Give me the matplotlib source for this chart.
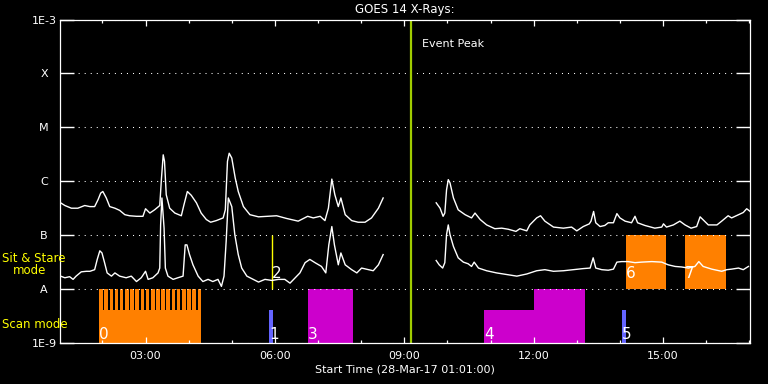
import numpy as np
import matplotlib
matplotlib.use("Agg")
import matplotlib.pyplot as plt
from matplotlib.ticker import NullLocator

# ---- GOES 14 light curves (time in hours of 28-Mar-17, log10 flux in W/m^2) ----
long_t = [1.03, 1.13, 1.28, 1.43, 1.59, 1.71, 1.82, 1.90, 1.96, 2.01, 2.09, 2.17, 2.29, 2.40, 2.52, 2.63,
          2.79, 2.94, 3.00, 3.10, 3.21, 3.33, 3.37, 3.41, 3.44, 3.48, 3.56, 3.68, 3.83, 3.89, 3.97, 4.06,
          4.18, 4.29, 4.41, 4.51, 4.64, 4.80, 4.85, 4.90, 4.94, 5.00, 5.08, 5.15, 5.27, 5.42, 5.62, 5.85,
          6.04, 6.27, 6.54, 6.76, 6.89, 7.05, 7.16, 7.24, 7.32, 7.39, 7.47, 7.53, 7.63, 7.78, 7.93, 8.09,
          8.24, 8.40, 8.51,
          9.74, 9.83, 9.90, 9.94, 9.98, 10.02, 10.06, 10.14, 10.25, 10.41, 10.56, 10.64, 10.76, 10.91,
          11.10, 11.26, 11.41, 11.59, 11.68, 11.84, 11.91, 12.07, 12.16, 12.26, 12.46, 12.69, 12.88, 13.00,
          13.15, 13.29, 13.33, 13.39, 13.44, 13.54, 13.65, 13.73, 13.85, 13.93, 14.00, 14.12, 14.27, 14.35,
          14.41, 14.58, 14.81, 14.97, 15.01, 15.08, 15.24, 15.39, 15.51, 15.65, 15.78, 15.86, 15.96, 16.05,
          16.25, 16.36, 16.51, 16.59, 16.75, 16.86, 16.94, 17.02]
long_log = [-6.40, -6.45, -6.50, -6.50, -6.45, -6.47, -6.47, -6.34, -6.22, -6.19, -6.31, -6.47, -6.50, -6.54,
            -6.62, -6.64, -6.65, -6.65, -6.51, -6.59, -6.53, -6.45, -5.94, -5.51, -5.63, -6.25, -6.50, -6.59,
            -6.64, -6.44, -6.19, -6.26, -6.40, -6.59, -6.71, -6.76, -6.73, -6.68, -6.53, -5.63, -5.48, -5.57,
            -5.94, -6.19, -6.47, -6.62, -6.66, -6.65, -6.64, -6.69, -6.74, -6.65, -6.68, -6.65, -6.73, -6.50,
            -5.96, -6.25, -6.47, -6.31, -6.62, -6.73, -6.76, -6.76, -6.68, -6.50, -6.31,
            -6.40, -6.50, -6.65, -6.59, -6.16, -5.97, -6.03, -6.31, -6.53, -6.62, -6.68, -6.59, -6.71, -6.81,
            -6.88, -6.87, -6.89, -6.93, -6.88, -6.92, -6.81, -6.68, -6.64, -6.74, -6.85, -6.87, -6.85, -6.92,
            -6.84, -6.79, -6.74, -6.56, -6.77, -6.84, -6.82, -6.77, -6.77, -6.60, -6.68, -6.74, -6.77, -6.65,
            -6.77, -6.82, -6.87, -6.85, -6.79, -6.85, -6.81, -6.74, -6.81, -6.87, -6.84, -6.66, -6.74, -6.81,
            -6.81, -6.74, -6.64, -6.68, -6.62, -6.58, -6.51, -6.56]

short_t = [1.03, 1.13, 1.24, 1.32, 1.39, 1.51, 1.63, 1.71, 1.82, 1.88, 1.94, 1.99, 2.05, 2.11, 2.21, 2.29,
           2.40, 2.55, 2.67, 2.79, 2.90, 3.00, 3.06, 3.17, 3.29, 3.33, 3.35, 3.38, 3.43, 3.46, 3.52, 3.64,
           3.75, 3.87, 3.92, 3.96, 4.02, 4.10, 4.22, 4.33, 4.45, 4.56, 4.68, 4.76, 4.82, 4.87, 4.92, 5.00,
           5.07, 5.15, 5.23, 5.35, 5.50, 5.62, 5.77, 5.93, 6.08, 6.23, 6.35, 6.47, 6.58, 6.70, 6.81, 6.93,
           7.08, 7.18, 7.25, 7.32, 7.38, 7.47, 7.53, 7.63, 7.78, 7.90, 8.01, 8.17, 8.28, 8.40, 8.51,
           9.74, 9.81, 9.89, 9.94, 9.98, 10.02, 10.06, 10.14, 10.25, 10.37, 10.48, 10.56, 10.62, 10.72,
           10.91, 11.14, 11.37, 11.61, 11.84, 12.07, 12.26, 12.46, 12.69, 12.92, 13.15, 13.31, 13.38, 13.44,
           13.58, 13.73, 13.85, 13.93, 14.04, 14.19, 14.35, 14.50, 14.74, 14.97, 15.12, 15.28, 15.43, 15.59,
           15.74, 15.83, 15.93, 16.13, 16.36, 16.48, 16.59, 16.75, 16.86, 16.98]
short_log = [-7.76, -7.79, -7.77, -7.82, -7.76, -7.68, -7.67, -7.67, -7.64, -7.45, -7.29, -7.33, -7.51, -7.70,
             -7.76, -7.70, -7.76, -7.79, -7.76, -7.86, -7.79, -7.67, -7.82, -7.79, -7.70, -7.61, -6.81, -6.31,
             -6.87, -7.61, -7.76, -7.82, -7.79, -7.76, -7.18, -7.18, -7.36, -7.55, -7.76, -7.86, -7.82, -7.86,
             -7.82, -7.95, -7.76, -7.11, -6.31, -6.47, -6.99, -7.36, -7.61, -7.76, -7.82, -7.87, -7.82, -7.84,
             -7.82, -7.82, -7.89, -7.79, -7.70, -7.51, -7.45, -7.51, -7.58, -7.70, -7.18, -6.84, -7.18, -7.55,
             -7.33, -7.55, -7.64, -7.70, -7.61, -7.64, -7.66, -7.55, -7.36,
             -7.47, -7.55, -7.61, -7.51, -6.99, -6.81, -6.99, -7.21, -7.42, -7.50, -7.53, -7.58, -7.50, -7.61,
             -7.66, -7.70, -7.73, -7.76, -7.72, -7.66, -7.64, -7.67, -7.66, -7.64, -7.62, -7.61, -7.42, -7.61,
             -7.64, -7.65, -7.63, -7.50, -7.49, -7.49, -7.51, -7.50, -7.49, -7.50, -7.55, -7.58, -7.59, -7.61,
             -7.58, -7.49, -7.58, -7.63, -7.67, -7.64, -7.63, -7.61, -7.64, -7.58]

# ---- observations ----
# scan mode blocks (bottom of plot, from 1E-9)
scan_start = [1.92, 5.86, 6.77, 10.85, 12.01, 14.05]
scan_end = [4.28, 5.95, 7.81, 12.01, 13.19, 14.13]
scan_top = [4.1e-9, 4.1e-9, 1e-8, 4.1e-9, 1e-8, 4.1e-9]
scan_color = ["#FF8000", "#6464FF", "#CC00CC", "#CC00CC", "#CC00CC", "#6464FF"]
# individual rasters inside observation 0
raster_start = [1.921, 2.044, 2.165, 2.285, 2.404, 2.524, 2.645, 2.765, 2.886, 3.004,
                3.125, 3.245, 3.366, 3.486, 3.607, 3.725, 3.846, 3.967, 4.087, 4.208]
raster_dur = 0.084
# sit & stare (between A and B)
sit_start = [5.94, 14.13, 15.51]
sit_end = [5.94, 15.08, 16.46]
sit_color = ["#FFFF00", "#FF8000", "#FF8000"]
# numbering of observations
obs_num = ["0", "1", "2", "3", "4", "5", "6", "7"]
obs_t = [1.92, 5.86, 5.94, 6.77, 10.85, 14.05, 14.13, 15.51]
obs_mode = ["scan", "scan", "sit", "scan", "scan", "scan", "sit", "sit"]

event_peak = 9.15
t0 = 1 + 1 / 60.0
t1 = 17 + 1 / 60.0

levels = [1e-9, 1e-8, 1e-7, 1e-6, 1e-5, 1e-4, 1e-3]
level_labels = ["1E-9", "A", "B", "C", "M", "X", "1E-3"]
hour_ticks = [3, 6, 9, 12, 15]
hour_labels = ["03:00", "06:00", "09:00", "12:00", "15:00"]


def met_gat(t, logf):
    # gat in de data (geen meting) -> NaN zodat de lijn onderbroken wordt
    t = np.array(t, dtype=float)
    f = 10 ** np.array(logf, dtype=float)
    idx = np.where(np.diff(t) > 1.0)[0] + 1
    return np.insert(t, idx, np.nan), np.insert(f, idx, np.nan)


fig = plt.figure(figsize=(7.68, 3.84), dpi=100, facecolor="black")
ax = fig.add_axes([60 / 768, 41 / 384, 690 / 768, 323.5 / 384])
ax.set_facecolor("black")
ax.set_yscale("log")
ax.set_ylim(1e-9, 1e-3)
ax.set_xlim(t0, t1)

for s in ax.spines.values():
    s.set_color("white")
    s.set_linewidth(0.9)

# scan mode blocks
for a, b, top, c in zip(scan_start, scan_end, scan_top, scan_color):
    ax.bar(a, top - 1e-9, bottom=1e-9, width=b - a, align="edge", color=c, linewidth=0)
for a in raster_start:
    ax.bar(a, 1e-8 - 1e-9, bottom=1e-9, width=raster_dur, align="edge", color="#FF8000", linewidth=0)

# sit & stare
for a, b, c in zip(sit_start, sit_end, sit_color):
    if b - a <= 0:
        ax.vlines(a, 1e-8, 1e-7, color=c, linewidth=1.0)
    else:
        ax.bar(a, 1e-7 - 1e-8, bottom=1e-8, width=b - a, align="edge", color=c, linewidth=0)

for n, t, m in zip(obs_num, obs_t, obs_mode):
    y = 1.2e-9 if m == "scan" else 1.6e-8
    ax.text(t, y, n, color="white", fontsize=11, ha="left", va="baseline")

# GOES curves
tl, fl = met_gat(long_t, long_log)
ts, fs = met_gat(short_t, short_log)
ax.plot(tl, fl, color="white", linewidth=1.0)
ax.plot(ts, fs, color="white", linewidth=1.0)

# event peak
ax.axvline(event_peak, color="#A0CC00", linewidth=1.6)
ax.text(event_peak + 0.25, 3.1e-4, "Event Peak", color="white", fontsize=8, va="baseline")

# axes
ax.set_yticks(levels)
ax.set_yticklabels(level_labels)
ax.yaxis.set_minor_locator(NullLocator())
ax.tick_params(axis="y", which="major", direction="in", length=10, width=1, color="white",
               labelcolor="white", left=True, right=True, pad=11.5, labelsize=8)
for lab in ax.get_yticklabels():
    lab.set_horizontalalignment("center")
ax.grid(axis="y", color="white", linestyle=(0, (1, 4.8)), linewidth=0.75)

ax.set_xticks(hour_ticks)
ax.set_xticklabels(hour_labels)
ax.set_xticks(np.arange(2, 18), minor=True)
ax.tick_params(axis="x", which="major", direction="in", length=4.5, width=0.9, color="white",
               labelcolor="white", top=True, bottom=True, pad=5.5, labelsize=8)
ax.tick_params(axis="x", which="minor", direction="in", length=2.3, width=0.9, color="white",
               top=True, bottom=True)
ax.set_xlabel("Start Time (28-Mar-17 01:01:00)", color="white", fontsize=8, labelpad=3)

ax.set_title("GOES 14 X-Rays:", color="white", fontsize=8.5, pad=5)

fig.text(2 / 768, 1 - 259 / 384, "Sit & Stare", color="#FFFF00", fontsize=8.5, ha="left", va="center")
fig.text(13 / 768, 1 - 271 / 384, "mode", color="#FFFF00", fontsize=8.5, ha="left", va="center")
fig.text(2 / 768, 1 - 324 / 384, "Scan mode", color="#FFFF00", fontsize=8.5, ha="left", va="center")

fig.savefig("out.png", dpi=100, facecolor="black")
